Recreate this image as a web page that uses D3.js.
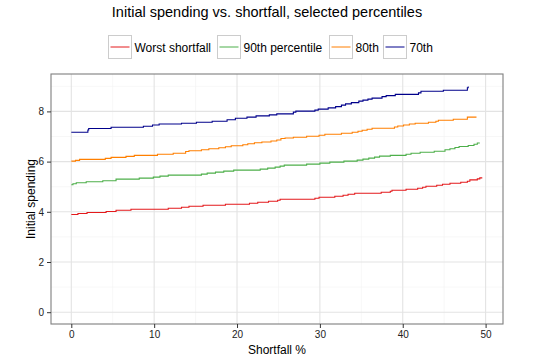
<!DOCTYPE html>
<html>
<head>
<meta charset="utf-8">
<script src="https://cdn.jsdelivr.net/npm/d3@7"></script>
<style>
  body { margin: 0; background: #fff; }
  svg text { font-family: "Liberation Sans", Arial, sans-serif; }
</style>
</head>
<body>
<svg width="541" height="363"></svg>
<script>
// step data: [shortfall %, initial spending]
const worst = [[0,3.89],[0.8,3.93],[1.9,3.97],[4.2,4.01],[5.4,4.06],[7.2,4.10],[11.7,4.14],[13.3,4.18],[14.2,4.22],[15.9,4.26],[18.6,4.30],[21.5,4.34],[22.5,4.38],[23.8,4.42],[24.9,4.46],[25.2,4.50],[29.4,4.54],[29.9,4.58],[31.8,4.62],[32.8,4.66],[33.4,4.70],[34.2,4.74],[37.4,4.78],[38.5,4.82],[38.7,4.86],[40.4,4.90],[41.8,4.94],[42.4,4.98],[42.8,5.02],[44.1,5.06],[44.8,5.10],[45.7,5.14],[47.0,5.18],[47.8,5.22],[48.1,5.27],[49.0,5.31],[49.3,5.35],[49.6,5.35]];
const pct90 = [[0,5.08],[0.2,5.12],[0.6,5.16],[1.8,5.20],[3.8,5.24],[5.4,5.30],[8.2,5.34],[9.9,5.38],[10.7,5.42],[11.7,5.46],[15.7,5.50],[16.4,5.54],[17.4,5.58],[18.4,5.62],[19.6,5.66],[22.8,5.70],[23.7,5.74],[24.6,5.78],[25.2,5.82],[25.7,5.86],[28.4,5.90],[30.0,5.94],[31.2,5.98],[32.9,6.02],[34.5,6.06],[35.2,6.10],[35.9,6.14],[36.6,6.18],[37.2,6.22],[38.5,6.25],[40.4,6.29],[41.0,6.33],[42.1,6.37],[43.8,6.41],[45.1,6.47],[45.7,6.51],[46.3,6.56],[46.8,6.60],[47.9,6.64],[48.6,6.69],[49.0,6.74],[49.3,6.74]];
const pct80 = [[0,6.02],[0.5,6.05],[1.0,6.09],[4.1,6.13],[4.8,6.17],[6.6,6.21],[7.6,6.25],[10.4,6.29],[12.3,6.33],[13.8,6.40],[14.2,6.43],[15.7,6.47],[16.6,6.51],[17.8,6.55],[18.6,6.59],[19.3,6.63],[20.7,6.67],[21.3,6.71],[22.1,6.75],[23.0,6.78],[24.1,6.82],[24.8,6.86],[25.3,6.92],[25.8,6.94],[26.8,6.97],[28.4,7.01],[29.9,7.05],[30.6,7.09],[32.6,7.13],[33.9,7.17],[34.6,7.21],[35.1,7.25],[35.7,7.29],[36.3,7.33],[39.0,7.38],[39.4,7.42],[40.1,7.46],[40.8,7.50],[41.5,7.53],[43.1,7.57],[44.0,7.61],[44.3,7.65],[46.1,7.69],[47.8,7.77],[48.9,7.77]];
const pct70 = [[0,7.17],[2.0,7.26],[2.1,7.32],[4.8,7.37],[8.7,7.41],[9.8,7.46],[10.6,7.50],[13.3,7.53],[15.1,7.57],[17.0,7.61],[18.8,7.67],[19.8,7.73],[21.2,7.77],[22.3,7.82],[23.9,7.86],[24.8,7.90],[26.8,7.97],[27.1,8.01],[29.4,8.05],[29.8,8.09],[31.0,8.14],[31.9,8.19],[32.6,8.25],[33.1,8.30],[33.8,8.35],[34.7,8.41],[35.2,8.45],[35.8,8.49],[36.3,8.53],[37.5,8.59],[38.0,8.63],[39.1,8.68],[41.9,8.74],[42.2,8.80],[44.9,8.84],[47.8,8.94],[47.9,8.99]];

const seriesNames = ['Worst shortfall', '90th percentile', '80th', '70th'];
const seriesData = [worst, pct90, pct80, pct70];
const seriesColors = ['#e41a1c', '#4daf4a', '#ff7f00', '#00008b'];

const xTicks = [0, 10, 20, 30, 40, 50];
const xMinor = [5, 15, 25, 35, 45];
const yTicks = [0, 2, 4, 6, 8];
const yMinor = [1, 3, 5, 7, 9];

const svg = d3.select('svg');
const width = +svg.attr('width');
const height = +svg.attr('height');

const margin = {top: 74, right: 38, bottom: 39, left: 51};
const innerWidth = width - margin.left - margin.right;
const innerHeight = height - margin.top - margin.bottom;

const xscale = d3.scaleLinear().domain([-2.45, 52.1]).range([0, innerWidth]);
const yscale = d3.scaleLinear().domain([-0.47, 9.49]).range([innerHeight, 0]);

const g = svg.append('g')
    .attr('transform', `translate(${margin.left}, ${margin.top})`);

// gridlines
g.selectAll('.xminor').data(xMinor).enter().append('line')
    .attr('x1', d => xscale(d)).attr('x2', d => xscale(d))
    .attr('y1', 0).attr('y2', innerHeight)
    .attr('stroke', '#f2f2f2').attr('stroke-width', 0.6);
g.selectAll('.yminor').data(yMinor).enter().append('line')
    .attr('y1', d => yscale(d)).attr('y2', d => yscale(d))
    .attr('x1', 0).attr('x2', innerWidth)
    .attr('stroke', '#f2f2f2').attr('stroke-width', 0.6);
g.selectAll('.xmajor').data(xTicks).enter().append('line')
    .attr('x1', d => xscale(d)).attr('x2', d => xscale(d))
    .attr('y1', 0).attr('y2', innerHeight)
    .attr('stroke', '#e3e3e3').attr('stroke-width', 1.1);
g.selectAll('.ymajor').data(yTicks).enter().append('line')
    .attr('y1', d => yscale(d)).attr('y2', d => yscale(d))
    .attr('x1', 0).attr('x2', innerWidth)
    .attr('stroke', '#e3e3e3').attr('stroke-width', 1.1);

// lines
const line = d3.line()
    .x(d => xscale(d[0]))
    .y(d => yscale(d[1]))
    .curve(d3.curveStepAfter);

g.selectAll('.series').data(seriesData).enter().append('path')
    .attr('d', line)
    .attr('fill', 'none')
    .attr('stroke', (d, i) => seriesColors[i])
    .attr('stroke-width', 1.1);

// panel border
g.append('rect')
    .attr('width', innerWidth).attr('height', innerHeight)
    .attr('fill', 'none').attr('stroke', '#7f7f7f').attr('stroke-width', 1.1);

// axes
const xAxis = g.append('g')
    .attr('transform', `translate(0, ${innerHeight})`)
    .call(d3.axisBottom(xscale).tickValues(xTicks).tickSize(4).tickPadding(3));
const yAxis = g.append('g')
    .call(d3.axisLeft(yscale).tickValues(yTicks).tickSize(4).tickPadding(3));
[xAxis, yAxis].forEach(a => {
    a.select('.domain').remove();
    a.selectAll('line').attr('stroke', '#333');
    a.selectAll('text').attr('fill', '#222').style('font-size', '10px')
        .style('font-family', '"Liberation Sans", Arial, sans-serif');
});

// titles
svg.append('text')
    .attr('x', 267).attr('y', 17)
    .attr('text-anchor', 'middle')
    .style('font-size', '14.5px')
    .text('Initial spending vs. shortfall, selected percentiles');

svg.append('text')
    .attr('x', margin.left + innerWidth / 2).attr('y', 354)
    .attr('text-anchor', 'middle')
    .style('font-size', '12px')
    .text('Shortfall %');

svg.append('text')
    .attr('transform', `translate(35, ${margin.top + innerHeight / 2}) rotate(-90)`)
    .attr('text-anchor', 'middle')
    .style('font-size', '12px')
    .text('Initial spending');

// legend
const legendX = [108.5, 217.5, 329.5, 383.5];
const legend = svg.selectAll('.legend').data(seriesNames).enter().append('g')
    .attr('transform', (d, i) => `translate(${legendX[i]}, 35.5)`);
legend.append('rect')
    .attr('width', 23).attr('height', 23)
    .attr('fill', '#fff').attr('stroke', '#cccccc');
legend.append('line')
    .attr('x1', 2).attr('x2', 21).attr('y1', 11.5).attr('y2', 11.5)
    .attr('stroke', (d, i) => seriesColors[i]).attr('stroke-width', 1);
legend.append('text')
    .attr('x', 26).attr('y', 16)
    .style('font-size', '12px')
    .text(d => d);
</script>
</body>
</html>
